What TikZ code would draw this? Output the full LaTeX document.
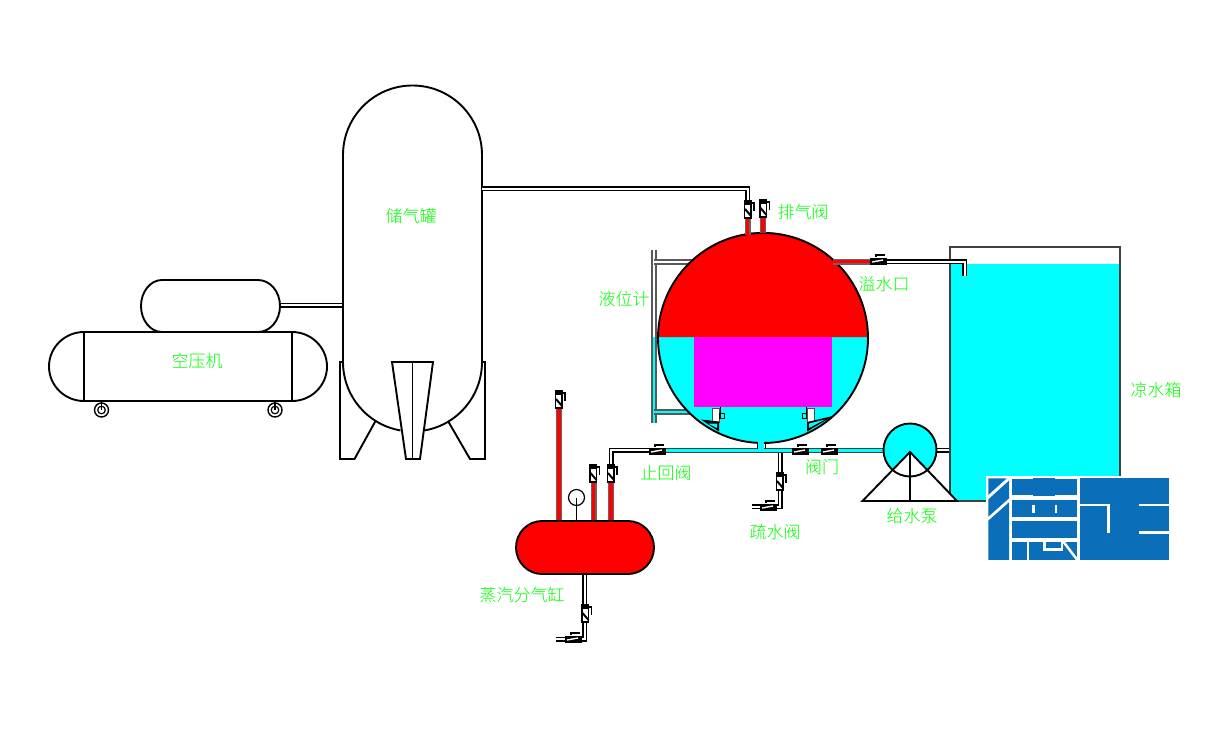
\documentclass[tikz,border=0pt]{standalone}
\usepackage{fontspec}
\newfontfamily\cjk{Noto Sans CJK SC}[UprightFont={* Light}]
\definecolor{aqua}{RGB}{0,255,255}
\definecolor{fuchsia}{RGB}{255,0,255}
\definecolor{purered}{RGB}{255,0,0}
\definecolor{logoblue}{RGB}{10,110,184}
\definecolor{labelgreen}{RGB}{0,255,0}
\tikzset{
    vessel/.style={line width=1.9pt, draw=black},
    label/.style={font=\cjk\fontsize{17}{18}\selectfont, text=labelgreen, inner sep=0pt},
    pipewhite/.style={line width=1.5pt, draw=black, double=white, double distance=2pt, line join=miter},
    pipered/.style={line width=1.2pt, draw=black!60, double=purered, double distance=3.6pt, line join=miter},
    pipeaqua/.style={line width=1.5pt, draw=black!75, double=aqua, double distance=2.4pt, line join=miter},
    gaugepipe/.style={line width=1.5pt, draw=black!65, double=white, double distance=2.4pt, line join=miter},
    gaugeaqua/.style={line width=1.5pt, draw=black!65, double=aqua, double distance=2.4pt, line join=miter},
}
\begin{document}
\begin{tikzpicture}[x=1pt, y=-1pt]

    %% Background
    \useasboundingbox (0,0) rectangle (1210,750);
    \fill[white] (0,0) rectangle (1210,750);

    % Air compressor
    \draw[pipewhite] (280,305) to (343,305);
    \draw[vessel, fill=white] (162,332) arc(90:270:21 and 26) -- (258,280) arc(270:450:22 and 26);
    \draw[vessel, fill=white] (84,332) -- (292,332) arc(270:450:35 and 34.5) -- (84,401) arc(90:270:35 and 34.5) -- cycle;
    \draw[vessel] (84.3,332) to (84.3,401);
    \draw[vessel] (291.7,332) to (291.7,401);
    \foreach \x in {101.5,275}
    {
    \draw[line width=1.4pt] (\x,410) circle (7);
    \draw[line width=1.2pt] (\x,410) circle (3.8);
    \draw[line width=1.4pt] (\x,401) to (\x,410);
    }

    % Storage tank
    \draw[vessel] (343,362) -- (343,155) arc(180:360:69.5) -- (482,362);
    \draw[vessel] (343,362) arc(180:100:69.5);
    \draw[vessel] (482,362) arc(0:80:69.5);
    \draw[vessel] (343,362) -- (340,362) -- (340,459) -- (354.5,459) -- (375.5,421);
    \draw[vessel] (482,362) -- (485,362) -- (485,459) -- (470,459) -- (448,421);
    \draw[vessel, fill=white] (392,362) -- (433,362) -- (420,459) -- (406,459) -- cycle;
    \draw[vessel] (412.5,362) to (412.5,459);

    % Pipe to boiler
    \draw[pipewhite] (482,188.5) -- (747.5,188.5) -- (747.5,204);

    % Level gauge
    \draw[gaugepipe] (654,250) -- (654,337);
    \draw[gaugepipe] (654,262) -- (697,262);
    \draw[gaugeaqua] (654,337) -- (654,423);
    \draw[gaugeaqua] (654,412) -- (692,412);

    % Boiler
    \fill[aqua] (763,338) circle (105);
    \fill[purered] (658,337) arc(180:360:105) -- cycle;
    \fill[fuchsia] (694,337) rectangle (832,407);
    \draw[line width=1.9pt] (763,338) circle (105);

    % Inner supports
    \foreach \x in {712,807}
    {
    \draw[line width=0.6pt, draw=black!70, fill=white] (\x,408) rectangle (\x+7,422);
    }
    \fill[black] (701,419.5) -- (719,421.5) -- (719,431.5) -- cycle;
    \fill[black] (833,416) -- (807,422) -- (807,431.5) -- cycle;
    \fill[aqua] (708,423.5) -- (717,423.5) -- (717,428) -- cycle;
    \fill[aqua] (825,419.5) -- (809,423.5) -- (809,428) -- cycle;
    \draw[line width=0.7pt] (720,407) to (720,419);
    \draw[line width=0.7pt] (719,413) rectangle (724,418);
    \draw[line width=0.7pt] (806,407) to (806,419);
    \draw[line width=0.7pt] (802,413) rectangle (806,418);

    % Water pipes
    \draw[pipewhite] (650,450) -- (611,450) -- (611,470);
    \draw[pipeaqua] (650,450.3) -- (886,450.3);
    \fill[aqua] (757.8,438) rectangle (764.2,451.5);
    \draw[line width=1pt] (757,441.5) to (757,448.5);
    \draw[line width=1pt] (765,441.5) to (765,448.5);
    \draw[pipewhite] (936,450.3) -- (951,450.3);

    % Cooling water box
    \fill[aqua] (950,264) rectangle (1120,501);
    \draw[line width=1.6pt, draw=black!75] (950,500) -- (950,247) -- (1120,247) -- (1120,501) -- (950,501);

    % Overflow
    \draw[pipered] (833,261.5) -- (874,261.5);
    \draw[pipewhite] (884,261.5) -- (964.5,261.5) -- (964.5,276);

    % Feed pump
    \draw[line width=1.9pt, fill=aqua] (910,450) circle (26.5);
    \draw[line width=1.9pt, fill=white] (862.5,501) -- (910,452) -- (957,501) -- cycle;
    \draw[line width=1.9pt] (910,452) to (910,501);
    \draw[line width=1.9pt] (910,450) ++(134:26.5) arc(134:46:26.5);

    % Drain of the main pipe
    \draw[pipewhite] (780,453) -- (780,506.5) -- (752,506.5);

    % Steam header
    \draw[pipered] (559,405) to (559,522);
    \draw[pipered] (593.5,481) to (593.5,522);
    \draw[pipered] (611,481) to (611,522);
    \draw[line width=1.2pt] (576.5,497.5) circle (8);
    \draw[line width=1.5pt] (576.5,497.5) to (576.5,521);
    \draw[pipewhite] (584.5,574) -- (584.5,639) -- (556,639);
    \draw[vessel, fill=purered] (542,521) -- (628,521) arc(270:450:26 and 26.5) -- (542,574) arc(90:270:26 and 26.5) -- cycle;

    % Red stubs on boiler
    \draw[pipered] (747.5,216) to (747.5,235);
    \draw[pipered] (763,216) to (763,233);

    % Valves, upright
    \foreach \x/\y in {748/200,763.5/199,559/390,593.5/464,611/464,780/472,585.5/604}
    {
    \draw[line width=1.6pt, fill=white] (\x-3.5,\y+1) rectangle (\x+3,\y+18);
    \fill[black] (\x-3.5,\y+1) rectangle (\x+3,\y+5);
    \draw[line width=2pt] (\x-3,\y+9) to (\x+3,\y+16);
    \draw[line width=1.4pt] (\x+3,\y+3) -- (\x+6,\y+3) -- (\x+6,\y+11);
    }

    % Valves, lying
    \foreach \x/\y in {649/451,792/451,821/451,870/261,760/507,565/639}
    {
    \fill[black] (\x,\y-3.5) rectangle (\x+17,\y+3.5);
    \draw[white, line width=1.4pt] (\x+2,\y+1) to (\x+13,\y-1);
    \draw[line width=1.4pt] (\x+6,\y-4) -- (\x+6,\y-6) -- (\x+15,\y-6);
    }

    % Logo
    \begin{scope}[shift={(970,460)}, x=0.3333pt, y=-0.3333pt]
    \fill[white] (47,47) rectangle (597,305);
    \fill[logoblue] (55,55) -- (110,55) -- (55,105) -- cycle;
    \fill[logoblue] (117,62) -- (117,115) -- (55,170) -- (55,118) -- cycle;
    \fill[logoblue] (55,182) -- (117,127) -- (117,300) -- (55,300) -- cycle;
    \fill[logoblue] (125,57) rectangle (322,105);
    \fill[logoblue] (190,54) rectangle (255,108);
    \fill[logoblue] (125,120) rectangle (322,172);
    \fill[logoblue] (125,182) rectangle (322,235);
    \fill[logoblue] (125,245) rectangle (170,300);
    \fill[logoblue] (178,245) rectangle (322,300);
    \fill[logoblue] (330,55) rectangle (597,300);
    \foreach \x in {190,258}
    {
    \fill[white] (\x-4,135) rectangle (\x+4,158);
    }
    \draw[white, line width=2.5pt] (224,245) -- (224,269) -- (276,269) -- (276,245);
    \draw[white, line width=2.5pt] (280,245) to (322,300);
    \draw[white, line width=2.7pt] (330,135) -- (415,135) -- (415,218);
    \draw[white, line width=2.7pt] (507,135) to (597,135);
    \draw[white, line width=2.7pt] (507,218) to (597,218);
    \end{scope}

    % Labels
    \node[label] (tanklabel) at (411,216) {储气罐};
    \node[label] (compressorlabel) at (197,361) {空压机};
    \node[label] (ventlabel) at (803,212) {排气阀};
    \node[label] (overflowlabel) at (884,284) {溢水口};
    \node[label] (gaugelabel) at (624,299) {液位计};
    \node[label] (boxlabel) at (1156,390) {凉水箱};
    \node[label] (checklabel) at (666,473) {止回阀};
    \node[label] (drainlabel) at (775,532) {疏水阀};
    \node[label] (valvelabel) at (822,467) {阀门};
    \node[label] (pumplabel) at (912,516) {给水泵};
    \node[label] (headerlabel) at (522,595) {蒸汽分气缸};

\end{tikzpicture}
\end{document}
